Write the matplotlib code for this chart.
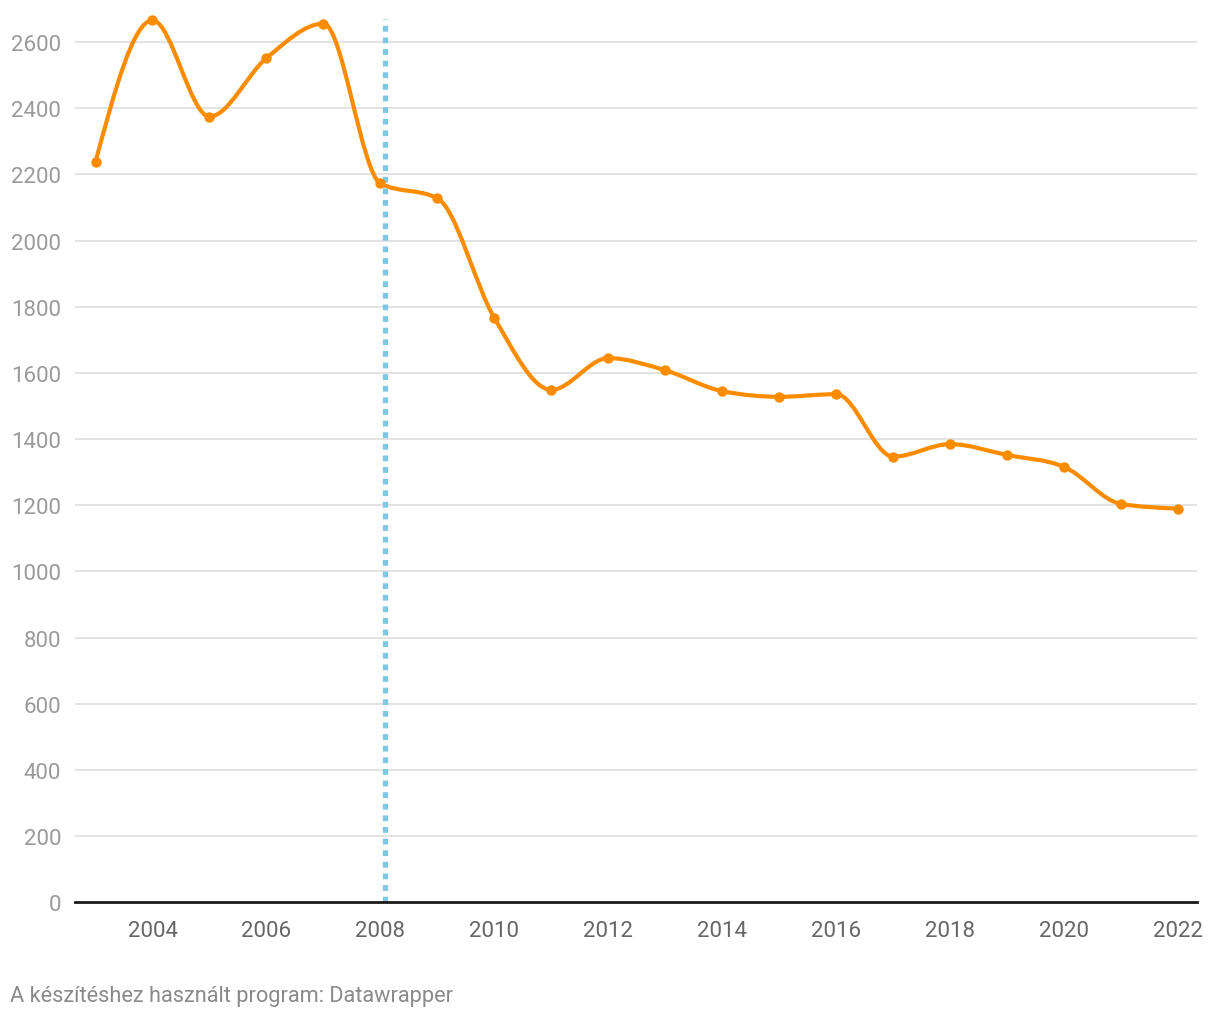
import numpy as np
import matplotlib
matplotlib.use("Agg")
import matplotlib.pyplot as plt
from matplotlib.path import Path
from matplotlib.patches import PathPatch

plt.rcParams['font.family'] = ['Roboto', 'DejaVu Sans']

years = [2003, 2004, 2005, 2006, 2007, 2008, 2009, 2010, 2011, 2012,
         2013, 2014, 2015, 2016, 2017, 2018, 2019, 2020, 2021, 2022]
values = [2238, 2666, 2375, 2552, 2656, 2173, 2128, 1766, 1549, 1645,
          1608, 1545, 1528, 1536, 1347, 1385, 1352, 1316, 1204, 1190]
marker_year = 2008.08
y_ticks = [0, 200, 400, 600, 800, 1000, 1200, 1400, 1600, 1800, 2000, 2200, 2400, 2600]
x_ticks = [2004, 2006, 2008, 2010, 2012, 2014, 2016, 2018, 2020, 2022]
footer = "A készítéshez használt program: Datawrapper"

ORANGE = "#fb8c00"
BLUE = "#7ec8e3"


def monotone_path(xs, ys):
    xs = np.asarray(xs, float)
    ys = np.asarray(ys, float)
    n = len(xs)
    h = np.diff(xs)
    s = np.diff(ys) / h
    m = np.zeros(n)
    for i in range(1, n - 1):
        h0, h1 = h[i - 1], h[i]
        s0, s1 = s[i - 1], s[i]
        p = (s0 * h1 + s1 * h0) / (h0 + h1)
        m[i] = (np.sign(s0) + np.sign(s1)) * min(abs(s0), abs(s1), 0.5 * abs(p))
    m[0] = (3 * s[0] - m[1]) / 2
    m[-1] = (3 * s[-1] - m[-2]) / 2
    verts = [(xs[0], ys[0])]
    codes = [Path.MOVETO]
    for i in range(n - 1):
        dx = (xs[i + 1] - xs[i]) / 3
        verts += [(xs[i] + dx, ys[i] + dx * m[i]),
                  (xs[i + 1] - dx, ys[i + 1] - dx * m[i + 1]),
                  (xs[i + 1], ys[i + 1])]
        codes += [Path.CURVE4] * 3
    return Path(verts, codes)


fig = plt.figure(figsize=(12.2, 10.2), dpi=100)
ax = fig.add_axes([75 / 1220, (1020 - 903.3) / 1020, 1122 / 1220, (903.3 - 20) / 1020])
ax.set_xlim(2002.64, 2022.33)
ax.set_ylim(0, 2670)

for t in y_ticks[1:]:
    ax.axhline(t, color="#e3e3e3", lw=1.4, zorder=1)
ax.axhline(0, color="#1a1a1a", lw=2.0, zorder=4, clip_on=False)

ax.axvline(marker_year, color=BLUE, lw=3.8, linestyle=(0, (1.1, 1.1)), zorder=3)

ax.add_patch(PathPatch(monotone_path(years, values), fill=False,
                       edgecolor=ORANGE, lw=3.0, zorder=5, capstyle='round',
                       joinstyle='round', clip_on=False))
ax.plot(years, values, 'o', color=ORANGE, ms=7.5, zorder=6, mec='none',
        clip_on=False)

ax.set_yticks(y_ticks)
ax.set_yticklabels([str(t) for t in y_ticks])
ax.set_xticks(x_ticks)
ax.set_xticklabels([str(t) for t in x_ticks])
ax.tick_params(axis='y', length=0, pad=10, labelsize=16, labelcolor="#9a9a9a")
ax.tick_params(axis='x', length=0, pad=13, labelsize=16, labelcolor="#666666")
for sp in ax.spines.values():
    sp.set_visible(False)

fig.text(10 / 1220, 1 - 997 / 1020, footer, fontsize=15.7, color="#8a8a8a",
         ha='left', va='center')

fig.savefig("out.png", dpi=100, facecolor="white")
